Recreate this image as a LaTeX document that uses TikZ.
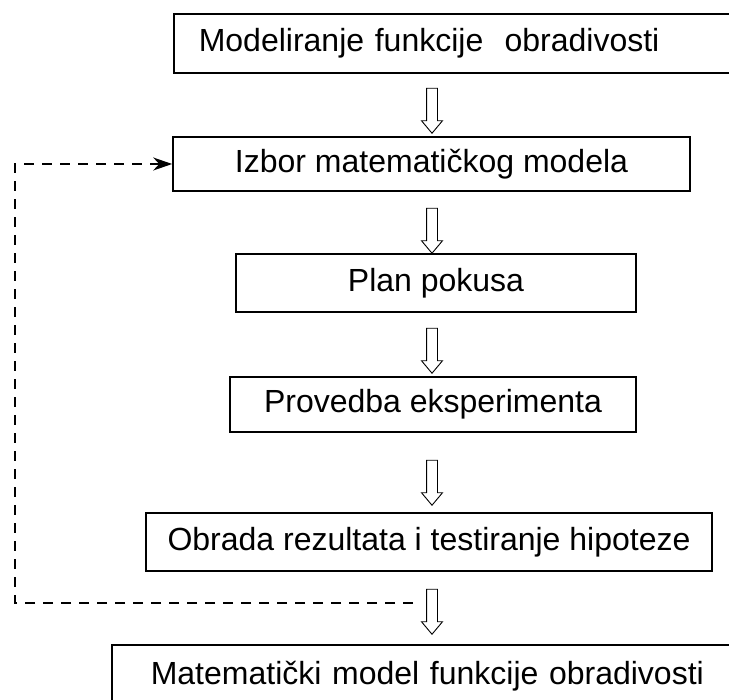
\documentclass[tikz,border=0pt]{standalone}
\usepackage{fontspec}
\setmainfont{Liberation Sans}
\usepackage{tikz}
\usetikzlibrary{positioning}
\usetikzlibrary{shapes.arrows, arrows.meta}
\tikzstyle{box} = [draw, line width=1.6pt, inner sep=0pt, font=\fontsize{32}{38}\selectfont]
\tikzstyle{hollow} = [draw, line width=0.9pt, shape=single arrow, rotate=-90, inner xsep=0pt, inner ysep=5pt, minimum height=45pt, single arrow head extend=5pt, single arrow tip angle=80]
\tikzstyle{feedback} = [line width=1.5pt, dash pattern=on 10pt off 8pt, -{Stealth[length=19pt,width=13pt,inset=6pt]}]

\begin{document}
\begin{tikzpicture}[x=1pt,y=-1pt]
						\useasboundingbox (0,0) rectangle (729,700);
						
						%Nodes
						\node [box, anchor=west, minimum height=59pt, text width=522pt, inner xsep=25pt, align=left] (modeliranje) at (173,43.5) {Modeliranje funkcije~ obradivosti};
						\node [box, minimum width=517pt, minimum height=54pt] (izbor) at (431.5,164) {Izbor matematičkog modela};
						\node [box, minimum width=400pt, minimum height=58pt] (plan) at (436,283) {Plan pokusa};
						\node [box, minimum width=406pt, minimum height=55pt] (provedba) at (433,404.5) {Provedba eksperimenta};
						\node [box, minimum width=566pt, minimum height=58pt] (obrada) at (429,542) {Obrada rezultata i testiranje hipoteze};
						\node [box, anchor=west, minimum height=62pt, text width=571pt, inner xsep=39pt, align=left] (matematicki) at (111,676) {Matematički model funkcije obradivosti};
						
						%Hollow arrows
						\node [hollow] (strela1) at (432,107.5) {};
						\node [hollow] (strela2) at (432,227.5) {};
						\node [hollow] (strela3) at (432,347.5) {};
						\node [hollow] (strela4) at (432,479.5) {};
						\node [hollow] (strela5) at (432,608.5) {};
						
						%Feedback
						\coordinate (fbStart) at (413,603);
						\draw[feedback] (fbStart) -- ++(-398,0) |- (izbor.west);
					\end{tikzpicture}
\end{document}
